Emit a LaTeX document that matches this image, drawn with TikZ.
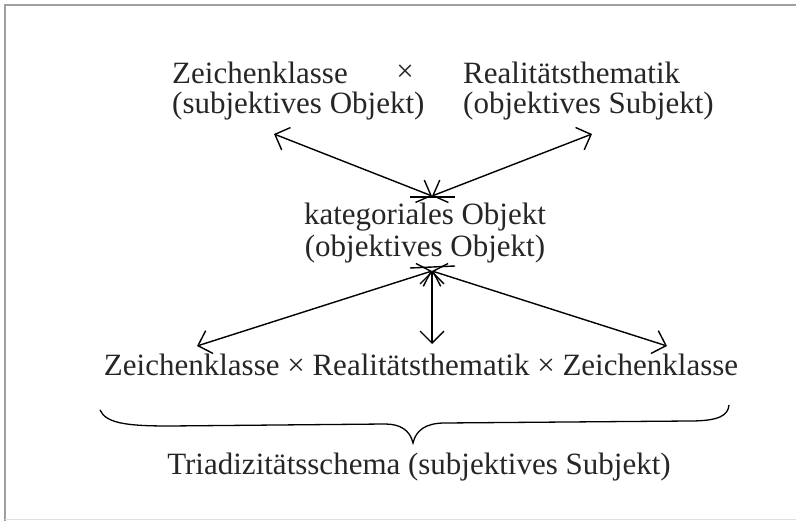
\documentclass[tikz,border=0pt]{standalone}
\usepackage{fontspec}
\setmainfont{Liberation Serif}
\usetikzlibrary{arrows.meta}
\tikzset{
  lbl/.style={inner sep=0pt, font=\fontsize{31}{35}\selectfont, text=black!85, align=center, anchor=center},
  lblw/.style={lbl, anchor=west},
  arr/.style={line width=1.4pt, {Straight Barb[length=12pt,width=24pt,line width=1.4pt]}-{Straight Barb[length=12pt,width=24pt,line width=1.4pt]}},
  bar/.style={line width=1.4pt},
  frame/.style={draw=gray!75, line width=2.5pt}
}
\begin{document}
\begin{tikzpicture}[x=1pt,y=-1pt]
\useasboundingbox (0,0) rectangle (796,521);
\draw[frame] (5,521) -- (5,5) -- (796,5);
\draw[gray!25, line width=1pt] (5,519) -- (796,519);

\node[lblw] (zk) at (172,73) {Zeichenklasse};
\node[lbl] (x1) at (405,73) {×};
\node[lblw] (rt) at (463,73) {Realitätsthematik};
\node[lblw] (so) at (172,106) {(subjektives Objekt)};
\node[lblw] (os) at (463,106) {(objektives Subjekt)};

\node[lbl] (ko) at (425,217) {kategoriales Objekt};
\node[lbl] (oo) at (425,249) {(objektives Objekt)};

\node[lbl] (tri) at (421,365) {Zeichenklasse × Realitätsthematik × Zeichenklasse};

\node[lbl] (ts) at (419,467) {Triadizitätsschema (subjektives Subjekt)};

\coordinate (c1) at (432,196);
\coordinate (c2) at (432,271);
\coordinate (t1) at (274,134);
\coordinate (t2) at (592,134);
\coordinate (b1) at (197,346);
\coordinate (b2) at (432,344);
\coordinate (b3) at (667,346);

\draw[arr] (t1) -- (c1);
\draw[arr] (t2) -- (c1);
\draw[bar] (410,197) -- (455,197);

\draw[arr] (c2) -- (b1);
\draw[arr] (c2) -- (b2);
\draw[arr] (c2) -- (b3);
\draw[bar] (410,268) -- (455,266);

\draw[line width=1.3pt] (100,410) .. controls (106,424) and (130,426) .. (170,426) -- (385,424) .. controls (400,424) and (410,430) .. (413,443)
  .. controls (416,430) and (426,423) .. (445,423) -- (690,421) .. controls (720,421) and (728,415) .. (729,405);
\end{tikzpicture}
\end{document}
